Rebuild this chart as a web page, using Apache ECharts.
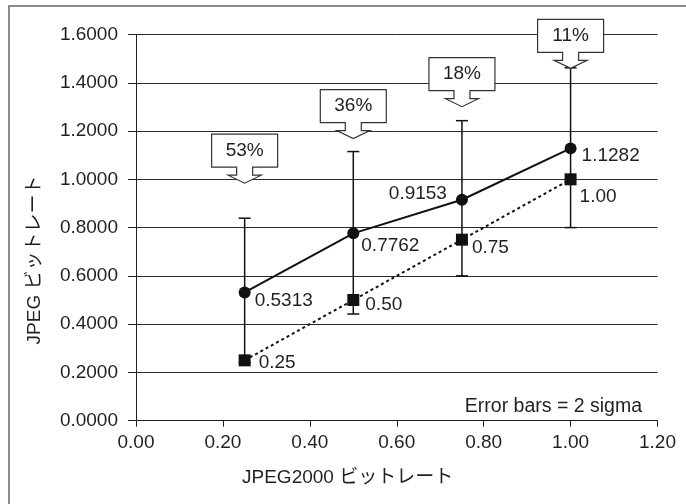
<!DOCTYPE html>
<html>
<head>
<meta charset="utf-8">
<script src="https://cdn.jsdelivr.net/npm/echarts@6/dist/echarts.min.js"></script>
<style>
  html, body { margin: 0; padding: 0; background: #fff; }
  #chart { width: 686px; height: 504px; }
</style>
</head>
<body>
<div id="chart"></div>
<script>
// chart data
const xRates = [0.25, 0.50, 0.75, 1.00];
const jpegRates = [0.5313, 0.7762, 0.9153, 1.1282];
const jp2Rates = [0.25, 0.50, 0.75, 1.00];
const errLow = [0.24, 0.442, 0.600, 0.800];
const errHigh = [0.839, 1.115, 1.243, 1.462];
const savings = ['53%', '36%', '18%', '11%'];
const calloutTips = [0.984, 1.169, 1.301, 1.460];

// label placement (pixels)
const jpegLabelPos = [['right', [2, 8]], ['right', [0, 12]], ['left', [-7, -6]], ['right', [3, 7]]];
const jp2LabelPos = [['right', [6, 2]], ['right', [4, 5]], ['right', [2, 8]], ['right', [1, 17]]];

const FONT = "'Liberation Sans', Arial, 'Noto Sans CJK JP', sans-serif";
const INK = '#231f20';

let chart = echarts.init(document.getElementById('chart'));

let option = {
  animation: false,
  grid: { left: 136, right: 28.5, top: 34.5, bottom: 83.3 },
  xAxis: {
    type: 'value',
    min: 0,
    max: 1.2,
    interval: 0.2,
    axisLine: { lineStyle: { color: INK, width: 1 } },
    axisTick: { show: true, length: 6, lineStyle: { color: INK } },
    axisLabel: {
      margin: 13,
      color: INK,
      fontSize: 19,
      fontFamily: FONT,
      formatter: v => v.toFixed(2)
    },
    splitLine: { show: false }
  },
  yAxis: {
    type: 'value',
    min: 0,
    max: 1.6,
    interval: 0.2,
    axisLine: { show: true, lineStyle: { color: INK, width: 1 } },
    axisTick: { show: true, length: 8, lineStyle: { color: INK } },
    axisLabel: {
      margin: 18,
      color: INK,
      fontSize: 19,
      fontFamily: FONT,
      formatter: v => v.toFixed(4)
    },
    splitLine: { show: true, lineStyle: { color: '#2a2a2a', width: 1 } }
  },
  graphic: [
    {
      type: 'rect',
      z: -10,
      shape: { x: 9, y: 6, width: 700, height: 520 },
      style: { fill: 'none', stroke: '#666', lineWidth: 1.5 }
    },
    {
      type: 'text',
      x: 347.6,
      y: 478,
      style: {
        text: 'JPEG2000 ビットレート',
        align: 'center', verticalAlign: 'middle',
        font: '19px ' + FONT, fill: INK
      }
    },
    {
      type: 'text',
      x: 35,
      y: 260,
      rotation: Math.PI / 2,
      style: {
        text: 'JPEG ビットレート',
        align: 'center', verticalAlign: 'middle',
        font: '19px ' + FONT, fill: INK
      }
    },
    {
      type: 'text',
      x: 642,
      y: 407,
      style: {
        text: 'Error bars = 2 sigma',
        align: 'right', verticalAlign: 'middle',
        font: '19.5px ' + FONT, fill: INK
      }
    }
  ],
  series: [
    {
      // error bars on the JPEG series
      type: 'custom',
      z: 2,
      data: xRates.map((x, i) => [x, errLow[i], errHigh[i]]),
      encode: { x: 0, y: [1, 2] },
      renderItem(params, api) {
        const x = api.value(0);
        const lo = api.coord([x, api.value(1)]);
        const hi = api.coord([x, api.value(2)]);
        const w = 6;
        const st = { stroke: '#111', lineWidth: 1.5 };
        return {
          type: 'group',
          children: [
            { type: 'line', shape: { x1: lo[0], y1: lo[1], x2: hi[0], y2: hi[1] }, style: st },
            { type: 'line', shape: { x1: hi[0] - w, y1: hi[1], x2: hi[0] + w, y2: hi[1] }, style: st },
            { type: 'line', shape: { x1: lo[0] - w, y1: lo[1], x2: lo[0] + w, y2: lo[1] }, style: st }
          ]
        };
      }
    },
    {
      type: 'line',
      z: 3,
      data: xRates.map((x, i) => ({
        value: [x, jpegRates[i]],
        label: { position: jpegLabelPos[i][0], offset: jpegLabelPos[i][1] }
      })),
      symbol: 'circle',
      symbolSize: 12,
      itemStyle: { color: '#111' },
      lineStyle: { color: '#111', width: 2 },
      label: {
        show: true,
        distance: 2,
        color: INK,
        fontSize: 19,
        fontFamily: FONT,
        formatter: p => jpegRates[p.dataIndex].toFixed(4)
      }
    },
    {
      type: 'line',
      z: 3,
      data: xRates.map((x, i) => ({
        value: [x, jp2Rates[i]],
        label: { position: jp2LabelPos[i][0], offset: jp2LabelPos[i][1] }
      })),
      symbol: 'rect',
      symbolSize: 12,
      itemStyle: { color: '#111' },
      lineStyle: { color: '#111', width: 2, type: [3, 3] },
      label: {
        show: true,
        distance: 2,
        color: INK,
        fontSize: 19,
        fontFamily: FONT,
        formatter: p => jp2Rates[p.dataIndex].toFixed(2)
      }
    },
    {
      // percentage callouts
      type: 'custom',
      z: 4,
      data: xRates.map((x, i) => [x, calloutTips[i]]),
      encode: { x: 0, y: 1 },
      renderItem(params, api) {
        const p = api.coord([api.value(0), api.value(1)]);
        const cx = p[0], ty = p[1];
        const bw = 33, bh = 33, sh = 8, hh = 8, sw = 8, hw = 16.5;
        const boxB = ty - hh - sh;
        const boxT = boxB - bh;
        return {
          type: 'group',
          children: [
            {
              type: 'polygon',
              shape: {
                points: [
                  [cx - bw, boxT], [cx + bw, boxT], [cx + bw, boxB],
                  [cx + sw, boxB], [cx + sw, boxB + sh], [cx + hw, boxB + sh],
                  [cx, ty],
                  [cx - hw, boxB + sh], [cx - sw, boxB + sh], [cx - sw, boxB],
                  [cx - bw, boxB]
                ]
              },
              style: { fill: '#fff', stroke: '#333', lineWidth: 1.2 }
            },
            {
              type: 'text',
              x: cx,
              y: (boxT + boxB) / 2,
              style: {
                text: savings[params.dataIndex],
                align: 'center', verticalAlign: 'middle',
                font: '19px ' + FONT, fill: INK
              }
            }
          ]
        };
      }
    }
  ]
};

chart.setOption(option);
</script>
</body>
</html>
